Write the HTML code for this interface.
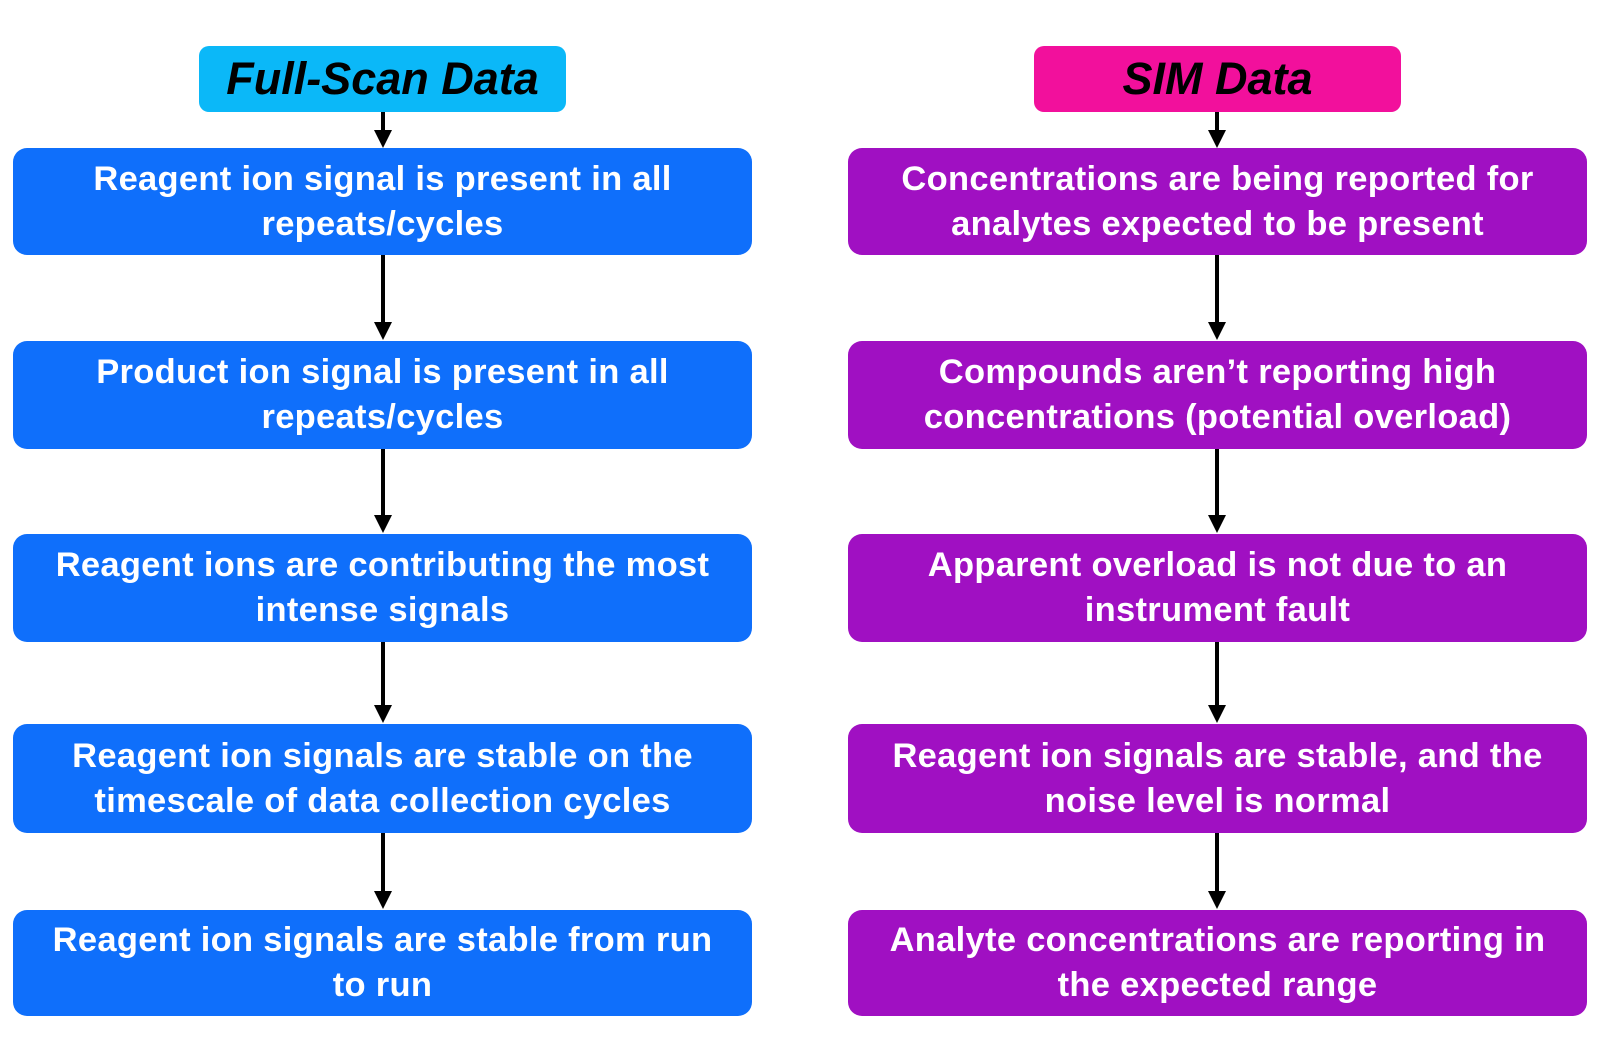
<!DOCTYPE html>
<html><head><meta charset="utf-8"><style>
body{margin:0;width:1600px;height:1060px;background:#fff;position:relative;overflow:hidden;font-family:"Liberation Sans",Arial,sans-serif}
.b{position:absolute;border-radius:14px;color:#fff;font-weight:bold;font-size:34.5px;line-height:45px;display:flex;align-items:center;justify-content:center;text-align:center;letter-spacing:0.3px;white-space:nowrap}
.l{left:13px;width:739px;background:#0f6ffb}
.r{left:848px;width:739px;background:#a010c2}
.h{position:absolute;top:46px;height:66px;width:367px;border-radius:10px;display:flex;align-items:center;justify-content:center;font-weight:bold;font-style:italic;font-size:45px;color:#000}
svg{position:absolute;left:0;top:0}
</style></head><body>
<div class="h" style="left:199px;background:#0bb8f8">Full-Scan Data</div>
<div class="h" style="left:1034px;background:#f2109c">SIM Data</div>

<div class="b l" style="top:148px;height:107px">Reagent ion signal is present in all<br>repeats/cycles</div>
<div class="b l" style="top:341px;height:108px">Product ion signal is present in all<br>repeats/cycles</div>
<div class="b l" style="top:534px;height:108px">Reagent ions are contributing the most<br>intense signals</div>
<div class="b l" style="top:724px;height:109px">Reagent ion signals are stable on the<br>timescale of data collection cycles</div>
<div class="b l" style="top:910px;height:106px">Reagent ion signals are stable from run<br>to run</div>

<div class="b r" style="top:148px;height:107px">Concentrations are being reported for<br>analytes expected to be present</div>
<div class="b r" style="top:341px;height:108px">Compounds aren’t reporting high<br>concentrations (potential overload)</div>
<div class="b r" style="top:534px;height:108px">Apparent overload is not due to an<br>instrument fault</div>
<div class="b r" style="top:724px;height:109px">Reagent ion signals are stable, and the<br>noise level is normal</div>
<div class="b r" style="top:910px;height:106px">Analyte concentrations are reporting in<br>the expected range</div>

<svg width="1600" height="1060">
<g stroke="#000" stroke-width="4" fill="#000">
<line x1="383" y1="112" x2="383" y2="134"/><polygon stroke="none" points="374,130 392,130 383,148"/>
<line x1="383" y1="255" x2="383" y2="326"/><polygon stroke="none" points="374,322 392,322 383,340"/>
<line x1="383" y1="449" x2="383" y2="519"/><polygon stroke="none" points="374,515 392,515 383,533"/>
<line x1="383" y1="642" x2="383" y2="709"/><polygon stroke="none" points="374,705 392,705 383,723"/>
<line x1="383" y1="833" x2="383" y2="895"/><polygon stroke="none" points="374,891 392,891 383,909"/>
<line x1="1217" y1="112" x2="1217" y2="134"/><polygon stroke="none" points="1208,130 1226,130 1217,148"/>
<line x1="1217" y1="255" x2="1217" y2="326"/><polygon stroke="none" points="1208,322 1226,322 1217,340"/>
<line x1="1217" y1="449" x2="1217" y2="519"/><polygon stroke="none" points="1208,515 1226,515 1217,533"/>
<line x1="1217" y1="642" x2="1217" y2="709"/><polygon stroke="none" points="1208,705 1226,705 1217,723"/>
<line x1="1217" y1="833" x2="1217" y2="895"/><polygon stroke="none" points="1208,891 1226,891 1217,909"/>
</g></svg>
</body></html>
